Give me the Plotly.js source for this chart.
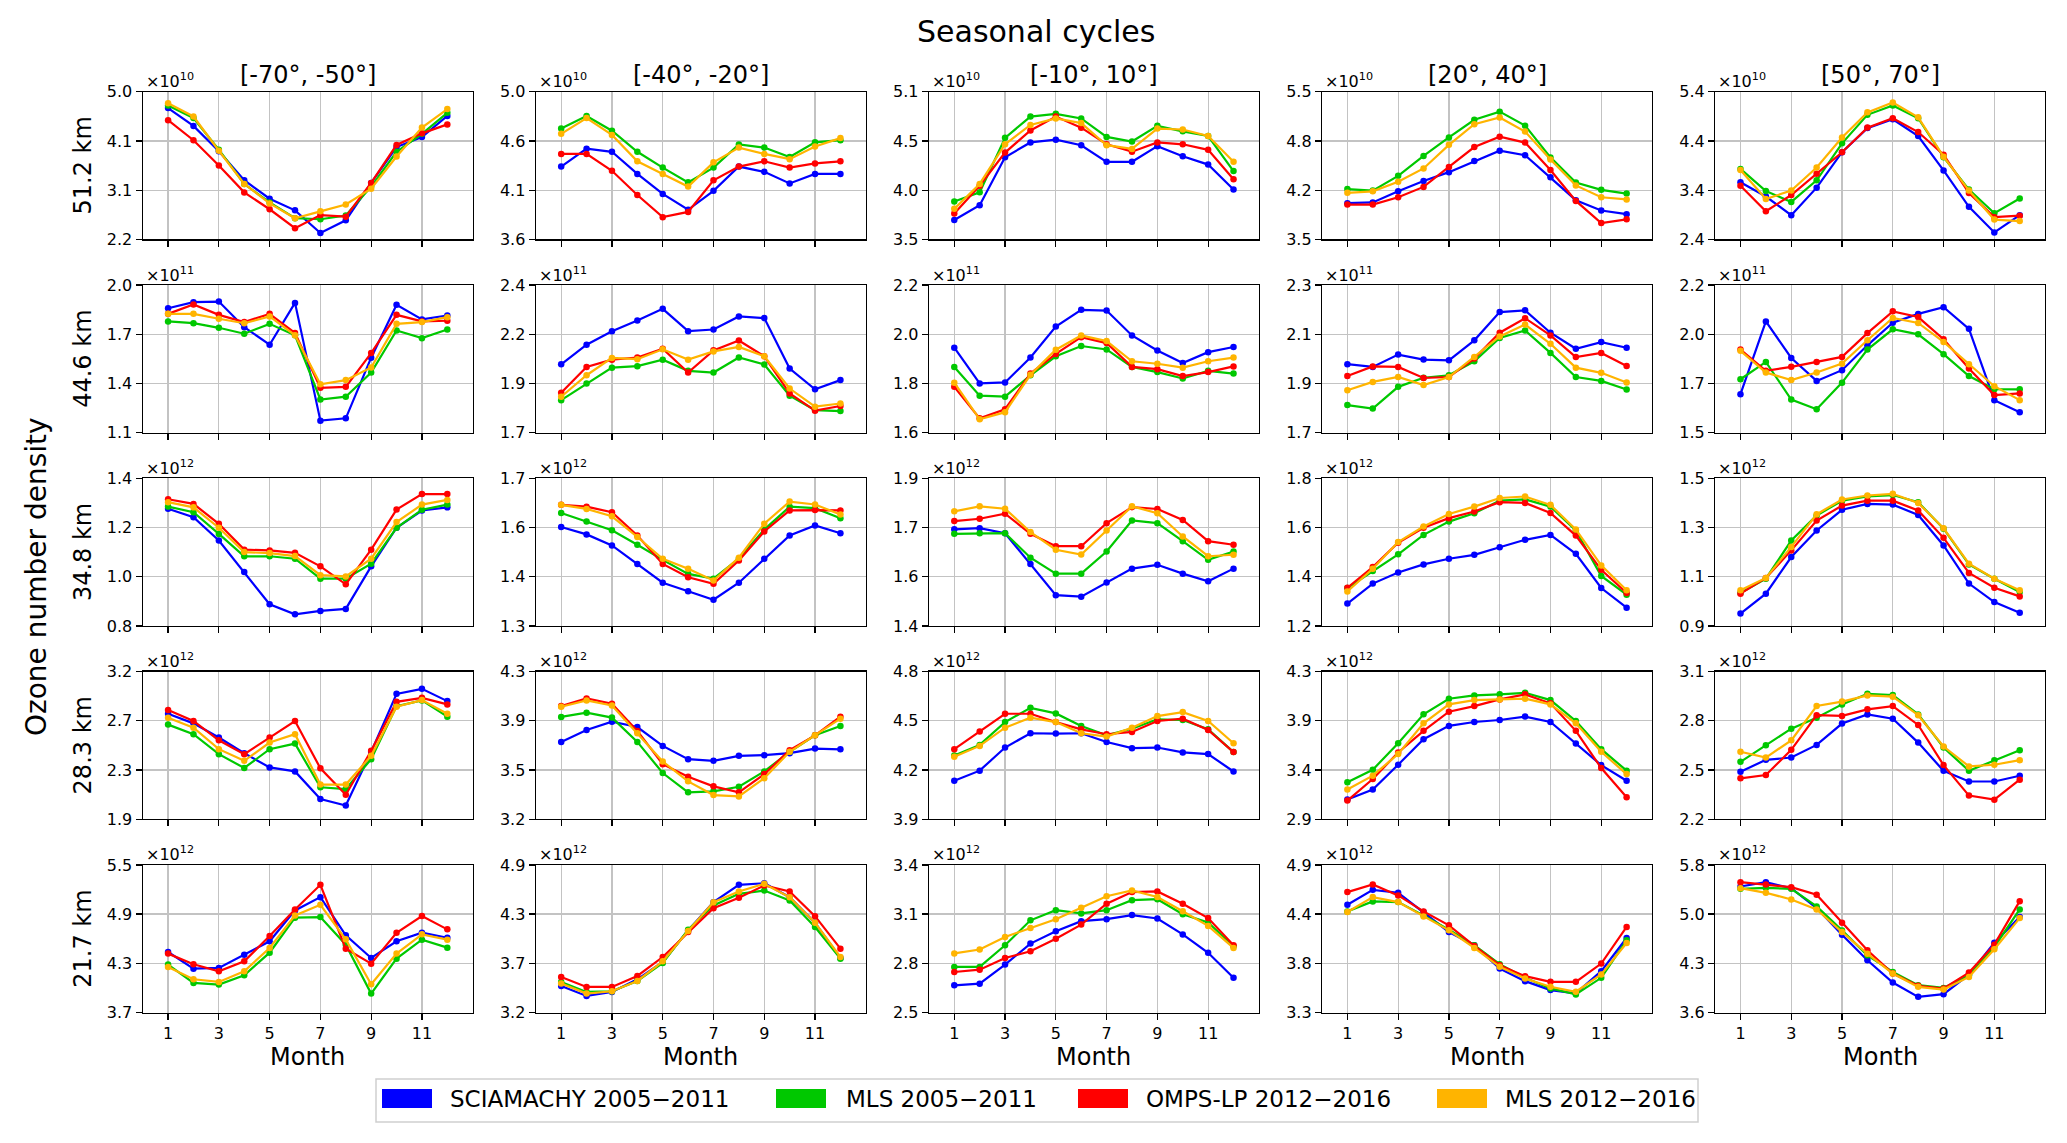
<!DOCTYPE html>
<html><head><meta charset="utf-8">
<script src="https://cdn.plot.ly/plotly-3.0.1.min.js"></script>
<style>body{margin:0;background:#fff}</style>
</head><body><div id="chart" style="width:2067px;height:1143px"></div>
<script>
// ---------------- DATA ----------------
const months = [1,2,3,4,5,6,7,8,9,10,11,12];
const latBands = ['[-70°, -50°]','[-40°, -20°]','[-10°, 10°]','[20°, 40°]','[50°, 70°]'];
const altitudes = ['51.2 km','44.6 km','34.8 km','28.3 km','21.7 km'];
const exponents = [10,11,12,12,12];
const seriesNames = ['SCIAMACHY 2005\u22122011','MLS 2005\u22122011','OMPS-LP 2012\u22122016','MLS 2012\u22122016'];
const seriesColors = ['#0000ff','#00c800','#ff0000','#ffb400'];
// y tick labels per row (altitude) and column (latitude band)
const yTickLabels = [
 [['2.2','3.1','4.1','5.0'],['3.6','4.1','4.6','5.0'],['3.5','4.0','4.5','5.1'],['3.5','4.2','4.8','5.5'],['2.4','3.4','4.4','5.4']],
 [['1.1','1.4','1.7','2.0'],['1.7','1.9','2.2','2.4'],['1.6','1.8','2.0','2.2'],['1.7','1.9','2.1','2.3'],['1.5','1.7','2.0','2.2']],
 [['0.8','1.0','1.2','1.4'],['1.3','1.4','1.6','1.7'],['1.4','1.6','1.7','1.9'],['1.2','1.4','1.6','1.8'],['0.9','1.1','1.3','1.5']],
 [['1.9','2.3','2.7','3.2'],['3.2','3.5','3.9','4.3'],['3.9','4.2','4.5','4.8'],['2.9','3.4','3.9','4.3'],['2.2','2.5','2.8','3.1']],
 [['3.7','4.3','4.9','5.5'],['3.2','3.7','4.3','4.9'],['2.5','2.8','3.1','3.4'],['3.3','3.8','4.4','4.9'],['3.6','4.3','5.0','5.8']]
];

// 51.2 km (x1e10), rows = latitude bands
const sciamachy_51 = [
 [4.69,4.35,3.87,3.32,2.97,2.75,2.32,2.56,3.27,3.95,4.14,4.54],
 [4.29,4.46,4.43,4.22,4.03,3.88,4.06,4.29,4.24,4.13,4.22,4.22],
 [3.71,3.87,4.39,4.55,4.58,4.52,4.34,4.34,4.51,4.40,4.31,4.04],
 [3.99,4.00,4.15,4.29,4.41,4.56,4.70,4.64,4.34,4.03,3.89,3.84],
 [3.56,3.27,2.89,3.45,4.17,4.66,4.84,4.50,3.80,3.06,2.54,2.89]];
const mls0511_51 = [
 [4.74,4.50,3.90,3.25,2.90,2.60,2.58,2.65,3.20,3.86,4.20,4.60],
 [4.65,4.77,4.63,4.43,4.28,4.14,4.28,4.50,4.47,4.38,4.52,4.54],
 [3.91,4.01,4.60,4.83,4.86,4.81,4.61,4.56,4.73,4.67,4.62,4.24],
 [4.18,4.16,4.36,4.63,4.88,5.12,5.23,5.04,4.61,4.27,4.17,4.12],
 [3.83,3.38,3.16,3.60,4.35,4.93,5.12,4.86,4.07,3.41,2.93,3.23]];
const omps_51 = [
 [4.46,4.08,3.60,3.09,2.77,2.41,2.66,2.63,3.27,3.99,4.21,4.38],
 [4.41,4.41,4.25,4.02,3.81,3.86,4.16,4.29,4.34,4.28,4.32,4.34],
 [3.78,4.08,4.44,4.68,4.83,4.71,4.53,4.45,4.55,4.53,4.47,4.15],
 [3.97,3.97,4.07,4.21,4.48,4.75,4.89,4.81,4.44,4.02,3.72,3.77],
 [3.49,2.97,3.30,3.73,4.17,4.67,4.86,4.58,4.12,3.34,2.85,2.88]];
const mls1216_51 = [
 [4.78,4.53,3.88,3.25,2.88,2.60,2.73,2.86,3.16,3.77,4.32,4.67],
 [4.60,4.75,4.59,4.34,4.22,4.10,4.33,4.47,4.41,4.36,4.48,4.56],
 [3.83,4.10,4.53,4.74,4.81,4.76,4.52,4.48,4.70,4.69,4.62,4.34],
 [4.13,4.15,4.28,4.46,4.78,5.06,5.15,4.96,4.58,4.23,4.07,4.04],
 [3.81,3.22,3.39,3.86,4.47,4.98,5.18,4.88,4.08,3.39,2.80,2.77]];

// 44.6 km (x1e11)
const sciamachy_44 = [
 [1.858,1.895,1.899,1.743,1.636,1.891,1.173,1.187,1.557,1.879,1.790,1.814],
 [2.024,2.117,2.181,2.232,2.287,2.181,2.189,2.251,2.243,2.004,1.905,1.949],
 [1.945,1.800,1.804,1.905,2.031,2.099,2.096,1.995,1.934,1.883,1.927,1.948],
 [1.978,1.967,2.017,1.997,1.994,2.075,2.190,2.197,2.106,2.041,2.068,2.045],
 [1.682,2.027,1.854,1.745,1.796,1.914,2.021,2.063,2.095,1.992,1.654,1.596]];
const mls0511_44 = [
 [1.778,1.767,1.739,1.703,1.763,1.693,1.302,1.319,1.466,1.723,1.676,1.729],
 [1.854,1.933,2.008,2.015,2.046,1.993,1.985,2.056,2.023,1.875,1.807,1.802],
 [1.867,1.750,1.746,1.833,1.910,1.952,1.938,1.867,1.846,1.820,1.851,1.840],
 [1.812,1.798,1.886,1.923,1.933,1.990,2.085,2.115,2.024,1.926,1.910,1.875],
 [1.753,1.835,1.657,1.611,1.737,1.894,1.990,1.966,1.872,1.768,1.706,1.705]];
const omps_44 = [
 [1.824,1.881,1.818,1.774,1.824,1.707,1.373,1.379,1.585,1.818,1.778,1.782],
 [1.889,2.011,2.046,2.056,2.098,1.985,2.090,2.137,2.062,1.886,1.804,1.826],
 [1.786,1.658,1.695,1.840,1.920,1.988,1.964,1.867,1.858,1.830,1.846,1.869],
 [1.930,1.969,1.967,1.922,1.926,2.001,2.106,2.165,2.095,2.007,2.024,1.971],
 [1.894,1.793,1.812,1.835,1.859,1.972,2.075,2.048,1.943,1.804,1.678,1.686]];
const mls1216_44 = [
 [1.824,1.824,1.794,1.767,1.808,1.693,1.395,1.420,1.497,1.763,1.774,1.804],
 [1.870,1.972,2.054,2.048,2.095,2.046,2.085,2.106,2.062,1.909,1.823,1.838],
 [1.803,1.654,1.683,1.835,1.937,1.995,1.972,1.890,1.880,1.864,1.890,1.905],
 [1.872,1.906,1.926,1.893,1.926,2.007,2.091,2.139,2.061,1.964,1.943,1.904],
 [1.888,1.785,1.749,1.785,1.827,1.938,2.044,2.020,1.930,1.824,1.720,1.654]];

// 34.8 km (x1e12)
const sciamachy_34 = [
 [1.276,1.242,1.147,1.019,0.888,0.847,0.861,0.869,1.042,1.199,1.269,1.282],
 [1.568,1.548,1.518,1.468,1.417,1.394,1.371,1.417,1.482,1.545,1.572,1.551],
 [1.727,1.731,1.714,1.610,1.504,1.499,1.547,1.594,1.607,1.577,1.551,1.594],
 [1.291,1.372,1.417,1.450,1.473,1.489,1.520,1.550,1.570,1.493,1.354,1.274],
 [0.950,1.031,1.180,1.288,1.372,1.396,1.393,1.351,1.227,1.072,0.997,0.953]];
const mls0511_34 = [
 [1.285,1.262,1.174,1.083,1.083,1.073,0.992,0.992,1.053,1.199,1.272,1.293],
 [1.606,1.583,1.559,1.520,1.479,1.441,1.428,1.482,1.561,1.623,1.619,1.592],
 [1.712,1.714,1.714,1.631,1.577,1.577,1.652,1.757,1.748,1.687,1.624,1.652],
 [1.354,1.423,1.491,1.570,1.624,1.658,1.709,1.714,1.685,1.588,1.403,1.327],
 [1.034,1.092,1.247,1.349,1.409,1.426,1.432,1.403,1.295,1.150,1.092,1.038]];
const omps_34 = [
 [1.315,1.296,1.215,1.110,1.107,1.097,1.042,0.969,1.110,1.273,1.336,1.336],
 [1.628,1.623,1.608,1.545,1.468,1.432,1.414,1.477,1.556,1.613,1.614,1.613],
 [1.755,1.763,1.780,1.712,1.670,1.670,1.748,1.802,1.796,1.759,1.687,1.675],
 [1.355,1.439,1.538,1.599,1.638,1.665,1.703,1.700,1.659,1.567,1.428,1.334],
 [1.031,1.095,1.207,1.328,1.389,1.409,1.409,1.369,1.258,1.115,1.055,1.020]];
const mls1216_34 = [
 [1.303,1.282,1.199,1.100,1.096,1.084,1.006,1.001,1.073,1.222,1.293,1.312],
 [1.628,1.617,1.597,1.541,1.482,1.455,1.423,1.485,1.577,1.637,1.629,1.602],
 [1.788,1.805,1.797,1.718,1.658,1.642,1.723,1.805,1.782,1.703,1.636,1.641],
 [1.340,1.432,1.541,1.604,1.655,1.685,1.720,1.726,1.692,1.592,1.446,1.345],
 [1.045,1.095,1.221,1.354,1.414,1.430,1.437,1.400,1.297,1.153,1.092,1.045]];

// 28.3 km (x1e12)
const sciamachy_28 = [
 [2.829,2.744,2.619,2.481,2.356,2.321,2.078,2.020,2.493,3.004,3.048,2.940],
 [3.776,3.865,3.927,3.887,3.746,3.647,3.635,3.672,3.677,3.692,3.726,3.721],
 [4.135,4.196,4.337,4.424,4.422,4.424,4.371,4.333,4.337,4.307,4.297,4.191],
 [3.086,3.181,3.417,3.659,3.785,3.822,3.841,3.873,3.822,3.618,3.413,3.265],
 [2.489,2.562,2.576,2.653,2.783,2.839,2.813,2.667,2.495,2.430,2.430,2.465]];
const mls0511_28 = [
 [2.733,2.649,2.473,2.351,2.517,2.566,2.181,2.166,2.429,2.896,2.946,2.803],
 [3.962,3.994,3.957,3.776,3.544,3.400,3.408,3.442,3.556,3.702,3.825,3.894],
 [4.289,4.353,4.492,4.579,4.545,4.468,4.412,4.452,4.509,4.505,4.448,4.309],
 [3.250,3.369,3.621,3.895,4.043,4.074,4.084,4.099,4.030,3.832,3.564,3.360],
 [2.550,2.651,2.752,2.819,2.900,2.965,2.957,2.839,2.637,2.495,2.560,2.621]];
const omps_28 = [
 [2.861,2.765,2.595,2.473,2.619,2.765,2.348,2.116,2.502,2.934,2.969,2.911],
 [4.043,4.100,4.061,3.858,3.610,3.516,3.445,3.400,3.536,3.714,3.825,3.964],
 [4.327,4.434,4.543,4.543,4.492,4.448,4.418,4.432,4.499,4.513,4.444,4.309],
 [3.077,3.281,3.533,3.738,3.920,3.973,4.036,4.084,3.999,3.738,3.385,3.108],
 [2.449,2.469,2.623,2.834,2.830,2.870,2.890,2.775,2.530,2.344,2.319,2.441]];
const mls1216_28 = [
 [2.794,2.706,2.517,2.414,2.575,2.649,2.205,2.205,2.458,2.890,2.949,2.829],
 [4.038,4.085,4.048,3.840,3.630,3.482,3.380,3.370,3.506,3.702,3.825,3.949],
 [4.281,4.347,4.458,4.519,4.492,4.424,4.404,4.458,4.529,4.553,4.499,4.363],
 [3.181,3.313,3.518,3.810,3.989,4.030,4.036,4.043,3.989,3.810,3.539,3.328],
 [2.611,2.576,2.681,2.890,2.917,2.955,2.947,2.834,2.643,2.522,2.532,2.560]];

// 21.7 km (x1e12)
const sciamachy_21 = [
 [4.438,4.235,4.243,4.405,4.568,4.945,5.107,4.641,4.365,4.568,4.673,4.612],
 [3.506,3.391,3.437,3.582,3.782,4.145,4.471,4.670,4.689,4.528,4.233,3.827],
 [2.666,2.676,2.792,2.920,2.996,3.057,3.069,3.094,3.073,2.976,2.864,2.712],
 [4.468,4.630,4.598,4.389,4.173,4.029,3.777,3.640,3.543,3.507,3.748,4.108],
 [5.478,5.542,5.453,5.156,4.760,4.378,4.046,3.833,3.873,4.165,4.641,5.022]];
const mls0511_21 = [
 [4.284,4.061,4.041,4.154,4.430,4.856,4.864,4.527,3.931,4.357,4.588,4.491],
 [3.552,3.437,3.445,3.563,3.770,4.153,4.433,4.567,4.605,4.490,4.184,3.820],
 [2.778,2.778,2.910,3.062,3.124,3.104,3.124,3.185,3.191,3.099,3.049,2.904],
 [4.396,4.504,4.497,4.353,4.198,4.029,3.824,3.676,3.561,3.496,3.676,4.083],
 [5.443,5.458,5.443,5.181,4.824,4.453,4.205,4.007,3.967,4.156,4.577,5.136]];
const omps_21 = [
 [4.418,4.288,4.203,4.324,4.632,4.957,5.257,4.478,4.296,4.673,4.876,4.714],
 [3.609,3.494,3.494,3.621,3.839,4.126,4.402,4.521,4.663,4.594,4.310,3.935],
 [2.747,2.761,2.832,2.873,2.950,3.036,3.163,3.234,3.238,3.163,3.076,2.910],
 [4.605,4.688,4.569,4.396,4.245,4.022,3.813,3.694,3.633,3.633,3.831,4.227],
 [5.542,5.507,5.468,5.354,4.938,4.527,4.180,3.997,3.957,4.195,4.611,5.260]];
const mls1216_21 = [
 [4.255,4.105,4.073,4.203,4.487,4.884,5.014,4.592,4.045,4.418,4.653,4.588],
 [3.533,3.418,3.445,3.563,3.789,4.138,4.471,4.594,4.682,4.528,4.233,3.839],
 [2.860,2.884,2.961,3.016,3.069,3.138,3.209,3.244,3.204,3.117,3.028,2.894],
 [4.389,4.551,4.497,4.342,4.191,4.000,3.795,3.669,3.579,3.525,3.712,4.054],
 [5.453,5.384,5.285,5.136,4.799,4.477,4.180,3.982,3.942,4.130,4.542,5.007]];

const dataByAltitude = [
 [sciamachy_51, mls0511_51, omps_51, mls1216_51],
 [sciamachy_44, mls0511_44, omps_44, mls1216_44],
 [sciamachy_34, mls0511_34, omps_34, mls1216_34],
 [sciamachy_28, mls0511_28, omps_28, mls1216_28],
 [sciamachy_21, mls0511_21, omps_21, mls1216_21]
];

// ---------------- LAYOUT ----------------
const W = 2067, H = 1143;
const FONT = 'DejaVu Sans, Verdana, sans-serif';
const colLeft = [142.7, 535.8, 928.9, 1322.0, 1715.1], colW = 330;
const rowTop = [91.7, 285.0, 478.3, 671.6, 864.9], rowH = 147.6;
const px = x => x / W;
const py = y => 1 - y / H;

const traces = [];
const layout = {
  width: W, height: H,
  margin: {l:0, r:0, t:0, b:0},
  paper_bgcolor: '#fff', plot_bgcolor: '#fff',
  showlegend: false,
  font: {family: FONT, color: '#000'},
  annotations: [], shapes: []
};

for (let r = 0; r < 5; r++) {
  for (let c = 0; c < 5; c++) {
    const n = r * 5 + c + 1;
    const xk = n === 1 ? 'xaxis' : 'xaxis' + n;
    const yk = n === 1 ? 'yaxis' : 'yaxis' + n;
    const xr = n === 1 ? 'x' : 'x' + n;
    const yr = n === 1 ? 'y' : 'y' + n;
    const labels = yTickLabels[r][c];
    const lo = parseFloat(labels[0]), hi = parseFloat(labels[3]);
    const tv = [0,1,2,3].map(i => lo + (hi - lo) * i / 3);
    layout[xk] = {
      domain: [px(colLeft[c]), px(colLeft[c] + colW)], anchor: yr,
      range: [0, 13], tickvals: [1,3,5,7,9,11], ticktext: ['1','3','5','7','9','11'],
      showticklabels: r === 4, ticks: 'outside', ticklen: 6, tickwidth: 1.2, tickcolor: '#000',
      showgrid: true, gridcolor: '#c3c3c3', gridwidth: 1.2,
      showline: true, mirror: true, linecolor: '#000', linewidth: 1.2,
      zeroline: false, tickfont: {size: 16, family: FONT, color: '#000'}, fixedrange: true
    };
    layout[yk] = {
      domain: [py(rowTop[r] + rowH), py(rowTop[r])], anchor: xr,
      range: [lo, hi], tickvals: tv, ticktext: labels,
      ticks: 'outside', ticklen: 6, tickwidth: 1.2, tickcolor: '#000',
      showgrid: true, gridcolor: '#c3c3c3', gridwidth: 1.2,
      showline: true, mirror: true, linecolor: '#000', linewidth: 1.2,
      zeroline: false, tickfont: {size: 16, family: FONT, color: '#000'}, fixedrange: true
    };
    for (let s = 0; s < 4; s++) {
      traces.push({
        type: 'scatter', mode: 'lines+markers',
        x: months, y: dataByAltitude[r][s][c],
        xaxis: xr, yaxis: yr, name: seriesNames[s],
        line: {color: seriesColors[s], width: 2.2},
        marker: {color: seriesColors[s], size: 6.5},
        cliponaxis: false, hoverinfo: 'skip'
      });
    }
    // exponent label
    layout.annotations.push({
      xref: 'paper', yref: 'paper', x: px(colLeft[c] + 1), y: py(rowTop[r] - 11),
      xanchor: 'left', yanchor: 'middle', showarrow: false,
      text: '\u00d710<sup>' + exponents[r] + '</sup>', font: {size: 16, family: FONT, color: '#000'}
    });
  }
  // row label
  layout.annotations.push({
    xref: 'paper', yref: 'paper', x: px(83), y: py(rowTop[r] + rowH / 2),
    xanchor: 'center', yanchor: 'middle', showarrow: false, textangle: -90,
    text: altitudes[r], font: {size: 24, family: FONT, color: '#000'}
  });
}
// column titles and Month labels
for (let c = 0; c < 5; c++) {
  layout.annotations.push({
    xref: 'paper', yref: 'paper', x: px(colLeft[c] + colW / 2), y: py(75.5),
    xanchor: 'center', yanchor: 'middle', showarrow: false,
    text: latBands[c], font: {size: 24, family: FONT, color: '#000'}
  });
  layout.annotations.push({
    xref: 'paper', yref: 'paper', x: px(colLeft[c] + colW / 2), y: py(1057),
    xanchor: 'center', yanchor: 'middle', showarrow: false,
    text: 'Month', font: {size: 24, family: FONT, color: '#000'}
  });
}
// main title and common y label
layout.annotations.push({
  xref: 'paper', yref: 'paper', x: px(1036), y: py(32),
  xanchor: 'center', yanchor: 'middle', showarrow: false,
  text: 'Seasonal cycles', font: {size: 30, family: FONT, color: '#000'}
});
layout.annotations.push({
  xref: 'paper', yref: 'paper', x: px(36), y: py(577),
  xanchor: 'center', yanchor: 'middle', showarrow: false, textangle: -90,
  text: 'Ozone number density', font: {size: 28, family: FONT, color: '#000'}
});

// legend (drawn as patches + text)
const legendBox = [376, 1079, 1698, 1122];
layout.shapes.push({type: 'rect', xref: 'paper', yref: 'paper',
  x0: px(legendBox[0]), x1: px(legendBox[2]), y0: py(legendBox[3]), y1: py(legendBox[1]),
  line: {color: '#cfcfcf', width: 1.5}, fillcolor: 'rgba(255,255,255,0.8)', layer: 'above'});
const patchX = [382, 776, 1078, 1437];
const textX = [448, 844, 1144, 1503];
for (let s = 0; s < 4; s++) {
  layout.shapes.push({type: 'rect', xref: 'paper', yref: 'paper',
    x0: px(patchX[s]), x1: px(patchX[s] + 50), y0: py(1108), y1: py(1089),
    line: {width: 0}, fillcolor: seriesColors[s], layer: 'above'});
  layout.annotations.push({
    xref: 'paper', yref: 'paper', x: px(textX[s]), y: py(1099),
    xanchor: 'left', yanchor: 'middle', showarrow: false,
    text: seriesNames[s], font: {size: 23, family: FONT, color: '#000'}
  });
}

Plotly.newPlot('chart', traces, layout, {displayModeBar: false, staticPlot: true});
</script>
</body></html>
